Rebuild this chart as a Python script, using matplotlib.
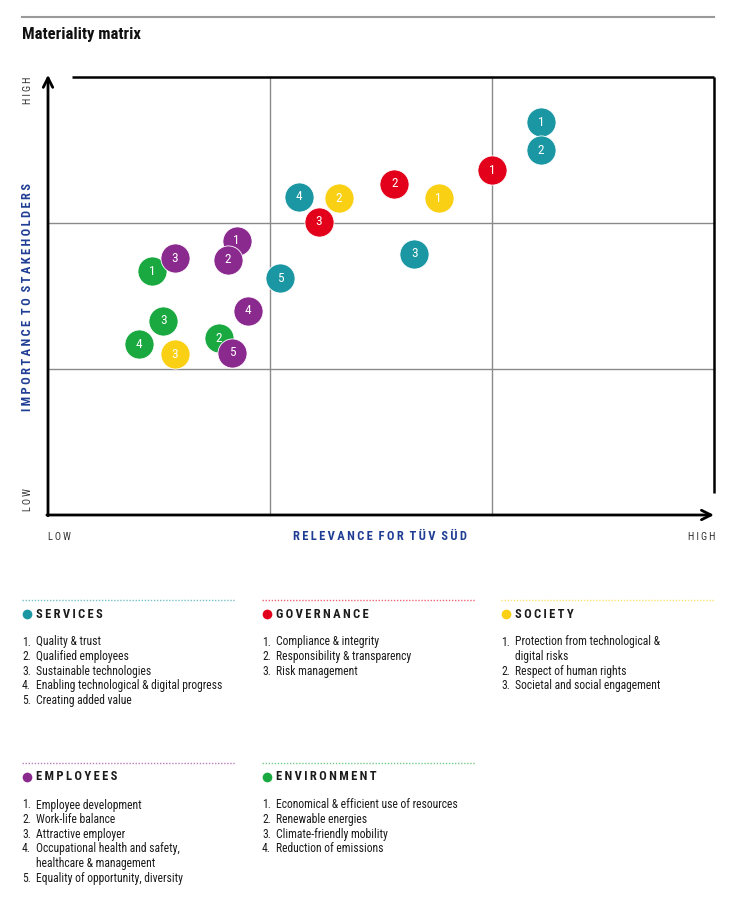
import matplotlib
matplotlib.use("Agg")
import matplotlib.pyplot as plt
from matplotlib import font_manager
from matplotlib.lines import Line2D

# pick a narrow font if there is one
avail = {f.name for f in font_manager.fontManager.ttflist}
narrow = "Liberation Sans"
for name in ["Liberation Sans Narrow", "Roboto Condensed", "Open Sans Condensed"]:
    if name in avail:
        narrow = name
        break
FONT = [narrow, "DejaVu Sans"]
plt.rcParams['font.family'] = FONT

# data: position on the 0..3 matrix (x = relevance, y = importance)
services_x = [2.22, 2.22, 1.65, 1.13, 1.045]
services_y = [2.69, 2.50, 1.79, 2.18, 1.62]
governance_x = [2.00, 1.56, 1.22]
governance_y = [2.36, 2.27, 2.01]
society_x = [1.76, 1.31, 0.57]
society_y = [2.17, 2.17, 1.10]
environment_x = [0.47, 0.77, 0.52, 0.41]
environment_y = [1.67, 1.21, 1.33, 1.17]
employees_x = [0.85, 0.81, 0.57, 0.90, 0.83]
employees_y = [1.88, 1.75, 1.76, 1.40, 1.11]

services_items = ["Quality & trust", "Qualified employees", "Sustainable technologies",
                  "Enabling technological & digital progress", "Creating added value"]
governance_items = ["Compliance & integrity", "Responsibility & transparency", "Risk management"]
society_items = ["Protection from technological &\ndigital risks", "Respect of human rights",
                 "Societal and social engagement"]
employees_items = ["Employee development", "Work-life balance", "Attractive employer",
                   "Occupational health and safety,\nhealthcare & management",
                   "Equality of opportunity, diversity"]
environment_items = ["Economical & efficient use of resources", "Renewable energies",
                     "Climate-friendly mobility", "Reduction of emissions"]

colors = {"SERVICES": "#1b97a3", "GOVERNANCE": "#e2001a", "SOCIETY": "#f9d014",
          "EMPLOYEES": "#8b2a8e", "ENVIRONMENT": "#1aa940"}
blue = "#1f3d93"

W, H = 736, 900
def fx(px):
    return px / W
def fy(py):
    return 1 - py / H

def spaced(s):
    return "  ".join("\u2009".join(w) for w in s.split(" "))

fig = plt.figure(figsize=(7.36, 9), dpi=100)
fig.patch.set_facecolor("white")

# header
fig.add_artist(Line2D([fx(22), fx(714)], [fy(17), fy(17)], color="#9a9a9a", lw=1.5))
fig.text(fx(22), fy(34), "Materiality matrix", fontsize=12, fontweight="bold",
         va="center", ha="left", color="#111111")

# matrix
ax = fig.add_axes([fx(48), fy(515), (714 - 48) / W, (515 - 77) / H])
ax.set_xlim(0, 3)
ax.set_ylim(0, 3)
ax.axis("off")

grid = "#8a8a8a"
for v in [1, 2]:
    ax.plot([v, v], [0, 3], color=grid, lw=1, zorder=1, clip_on=False)
    ax.plot([0, 3], [v, v], color=grid, lw=1, zorder=1, clip_on=False)
ax.plot([0.108, 3], [3, 3], color="black", lw=1.8, zorder=2, clip_on=False, solid_capstyle="butt")
ax.plot([3, 3], [3, 0.15], color="black", lw=1.8, zorder=2, clip_on=False, solid_capstyle="butt")
ax.annotate("", xy=(0, 3.015), xytext=(0, -0.005),
            arrowprops=dict(arrowstyle="->", lw=2, color="black", mutation_scale=17,
                            shrinkA=0, shrinkB=0), annotation_clip=False)
ax.annotate("", xy=(3.0, 0), xytext=(-0.005, 0),
            arrowprops=dict(arrowstyle="->", lw=2, color="black", mutation_scale=17,
                            shrinkA=0, shrinkB=0), annotation_clip=False)

groups = [("SERVICES", services_x, services_y),
          ("GOVERNANCE", governance_x, governance_y),
          ("SOCIETY", society_x, society_y),
          ("ENVIRONMENT", environment_x, environment_y),
          ("EMPLOYEES", employees_x, employees_y)]
z = 3
for name, xs, ys in groups:
    for i, (x, y) in enumerate(zip(xs, ys)):
        ax.scatter([x], [y], s=440, color=colors[name], edgecolors="white",
                   linewidths=0.6, zorder=z, clip_on=False)
        ax.text(x, y, str(i + 1), color="white", fontsize=9.5, ha="center",
                va="center", zorder=z + 1)
        z += 2

# axis labels
fig.text(fx(28), fy(90), spaced("HIGH"), rotation=90, fontsize=7.5, color="#333333",
         ha="center", va="center")
fig.text(fx(28), fy(500), spaced("LOW"), rotation=90, fontsize=7.5, color="#333333",
         ha="center", va="center")
fig.text(fx(28), fy(297), spaced("IMPORTANCE TO STAKEHOLDERS"), rotation=90, fontsize=9,
         fontweight="bold", color=blue, ha="center", va="center")
fig.text(fx(48), fy(537), spaced("LOW"), fontsize=7.5, color="#333333", ha="left", va="center")
fig.text(fx(715), fy(537), spaced("HIGH"), fontsize=7.5, color="#333333", ha="right", va="center")
fig.text(fx(380), fy(537), spaced("RELEVANCE FOR TÜV SÜD"), fontsize=9, fontweight="bold",
         color=blue, ha="center", va="center")

# legend blocks
blocks = [("SERVICES", services_items, 22, 600),
          ("GOVERNANCE", governance_items, 262, 600),
          ("SOCIETY", society_items, 501, 600),
          ("EMPLOYEES", employees_items, 22, 763),
          ("ENVIRONMENT", environment_items, 262, 763)]
for name, items, x0, y0 in blocks:
    c = colors[name]
    fig.add_artist(Line2D([fx(x0), fx(x0 + 213)], [fy(y0), fy(y0)], color=c, lw=1,
                          alpha=0.6, linestyle=(0, (1, 1.2))))
    fig.add_artist(Line2D([fx(x0 + 5)], [fy(y0 + 14)], marker="o", markersize=7,
                          color=c, markeredgewidth=0))
    fig.text(fx(x0 + 14), fy(y0 + 14), spaced(name), fontsize=9, fontweight="bold",
             color="#1a1a1a", ha="left", va="center")
    y = y0 + 42
    for i, item in enumerate(items):
        fig.text(fx(x0), fy(y), f"{i + 1}.", fontsize=8.4, color="#1a1a1a",
                 ha="left", va="center")
        for line in item.split("\n"):
            fig.text(fx(x0 + 14), fy(y), line, fontsize=8.4, color="#1a1a1a",
                     ha="left", va="center")
            y += 14.6

fig.savefig("out.png", dpi=100, facecolor="white")
